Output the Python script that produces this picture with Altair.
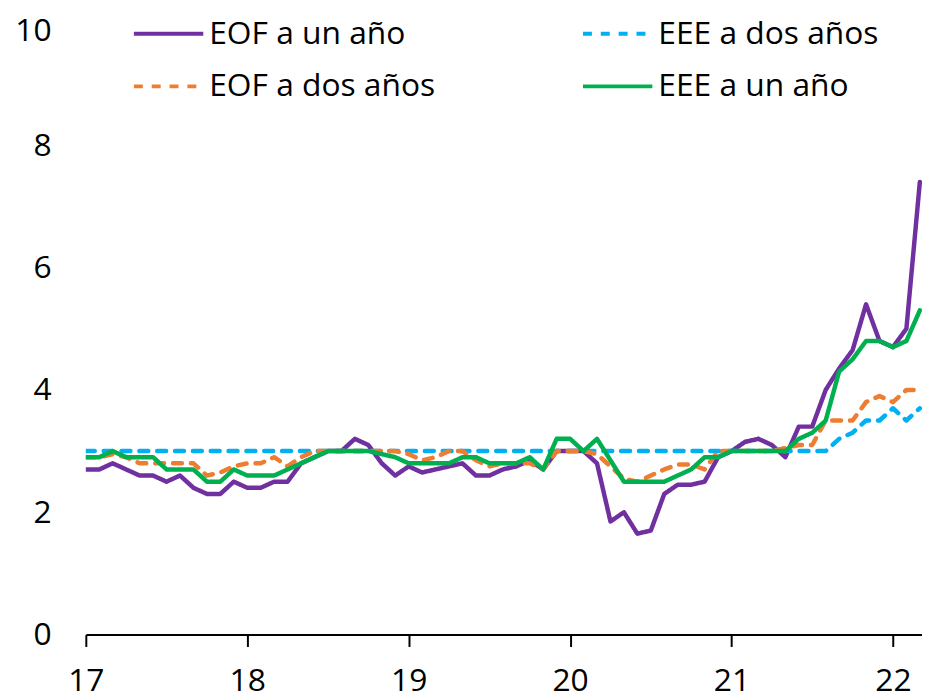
import altair as alt
import pandas as pd

# Monthly observations, Jan 2017 .. Mar 2022 (63 months)
month_index = list(range(63))

eof_un_ano = [2.7, 2.7, 2.8, 2.7, 2.6, 2.6, 2.5, 2.6, 2.4, 2.3, 2.3, 2.5,
              2.4, 2.4, 2.5, 2.5, 2.8, 2.9, 3.0, 3.0, 3.2, 3.1, 2.8, 2.6,
              2.75, 2.65, 2.7, 2.75, 2.8, 2.6, 2.6, 2.7, 2.75, 2.85, 2.7, 3.0,
              3.0, 3.0, 2.8, 1.85, 2.0, 1.65, 1.7, 2.3, 2.45, 2.45, 2.5, 2.9,
              3.0, 3.15, 3.2, 3.1, 2.9, 3.4, 3.4, 4.0, 4.35, 4.65, 5.4, 4.8,
              4.7, 5.0, 7.4]

eee_dos_anos = [3.0] * 56 + [3.2, 3.3, 3.5, 3.5, 3.7, 3.5, 3.7]

eof_dos_anos = [2.9, 2.9, 2.95, 2.9, 2.8, 2.8, 2.8, 2.8, 2.8, 2.6, 2.65, 2.75,
                2.8, 2.8, 2.9, 2.75, 2.9, 3.0, 3.0, 3.0, 3.0, 3.0, 3.0, 3.0,
                2.95, 2.85, 2.9, 3.0, 3.0, 2.85, 2.75, 2.8, 2.8, 2.8, 2.7, 3.0,
                3.0, 3.0, 2.95, 2.75, 2.55, 2.5, 2.6, 2.7, 2.78, 2.78, 2.7, 3.0,
                3.0, 3.0, 3.0, 3.0, 3.05, 3.1, 3.1, 3.5, 3.5, 3.5, 3.8, 3.9,
                3.8, 4.0, 4.0]

eee_un_ano = [2.9, 2.9, 3.0, 2.9, 2.9, 2.9, 2.7, 2.7, 2.7, 2.5, 2.5, 2.7,
              2.6, 2.6, 2.6, 2.7, 2.8, 2.9, 3.0, 3.0, 3.0, 3.0, 2.95, 2.9,
              2.8, 2.8, 2.8, 2.8, 2.9, 2.9, 2.8, 2.8, 2.8, 2.9, 2.7, 3.2,
              3.2, 3.0, 3.2, 2.85, 2.5, 2.5, 2.5, 2.5, 2.6, 2.7, 2.9, 2.9,
              3.0, 3.0, 3.0, 3.0, 3.0, 3.2, 3.3, 3.5, 4.3, 4.5, 4.8, 4.8,
              4.7, 4.8, 5.3]

# drawing order (later on top)
series_names = ["EOF a un año", "EEE a dos años", "EOF a dos años", "EEE a un año"]
series_values = [eof_un_ano, eee_dos_anos, eof_dos_anos, eee_un_ano]

# legend order (legend fills column by column)
legend_order = ["EOF a un año", "EOF a dos años", "EEE a dos años", "EEE a un año"]
legend_colors = ["#7030A0", "#ED7D31", "#00B0F0", "#00B050"]
legend_dashes = [[1, 0], [9, 9], [9, 9], [1, 0]]

year_ticks = [17, 18, 19, 20, 21, 22]
value_ticks = [0, 2, 4, 6, 8, 10]

rows = []
for name, vals in zip(series_names, series_values):
    for m, v in zip(month_index, vals):
        rows.append({"t": 17 + m / 12.0, "v": v, "serie": name})
df = pd.DataFrame(rows)

FONT = "Open Sans"

chart = alt.Chart(df).mark_line(
    strokeWidth=4.5, strokeCap="round", strokeJoin="round", clip=True
).encode(
    x=alt.X("t:Q",
            scale=alt.Scale(domain=[17, 22.18], nice=False, zero=False),
            axis=alt.Axis(values=year_ticks, format="d", title=None, grid=False,
                          domainColor="black", domainWidth=2,
                          tickColor="black", tickWidth=2, tickSize=12,
                          labelPadding=19, labelFontSize=32, labelFont=FONT,
                          labelColor="black", labelFlush=False, labelOverlap=False)),
    y=alt.Y("v:Q",
            scale=alt.Scale(domain=[0, 10], nice=False),
            axis=alt.Axis(values=value_ticks, title=None, grid=False,
                          domain=False, ticks=False, labelPadding=35,
                          labelOffset={"condition": {"test": "datum.value == 10", "value": 8},
                                       "value": 0},
                          labelFontSize=32, labelFont=FONT, labelColor="black",
                          labelFlush=False, labelOverlap=False)),
    color=alt.Color("serie:N",
                    scale=alt.Scale(domain=legend_order, range=legend_colors),
                    legend=alt.Legend(title=None)),
    strokeDash=alt.StrokeDash("serie:N",
                              scale=alt.Scale(domain=legend_order, range=legend_dashes),
                              legend=alt.Legend(title=None)),
).properties(
    width=843.5,
    height=617,
    padding={"left": 78.5, "top": 12, "right": 0, "bottom": 71},
    autosize=alt.AutoSizeParams(type="none"),
).configure_view(
    stroke=None
).configure_legend(
    orient="none",
    legendX=46.5,
    legendY=-26,
    columns=2,
    columnPadding=141,
    rowPadding=0,
    padding=0,
    symbolType="stroke",
    symbolSize=4900,
    symbolStrokeWidth=4,
    labelFont=FONT,
    labelFontSize=32,
    labelColor="black",
    labelOffset=4,
    labelLimit=0,
)

chart.save("out.html", embed_options={"renderer": "svg", "actions": False})
